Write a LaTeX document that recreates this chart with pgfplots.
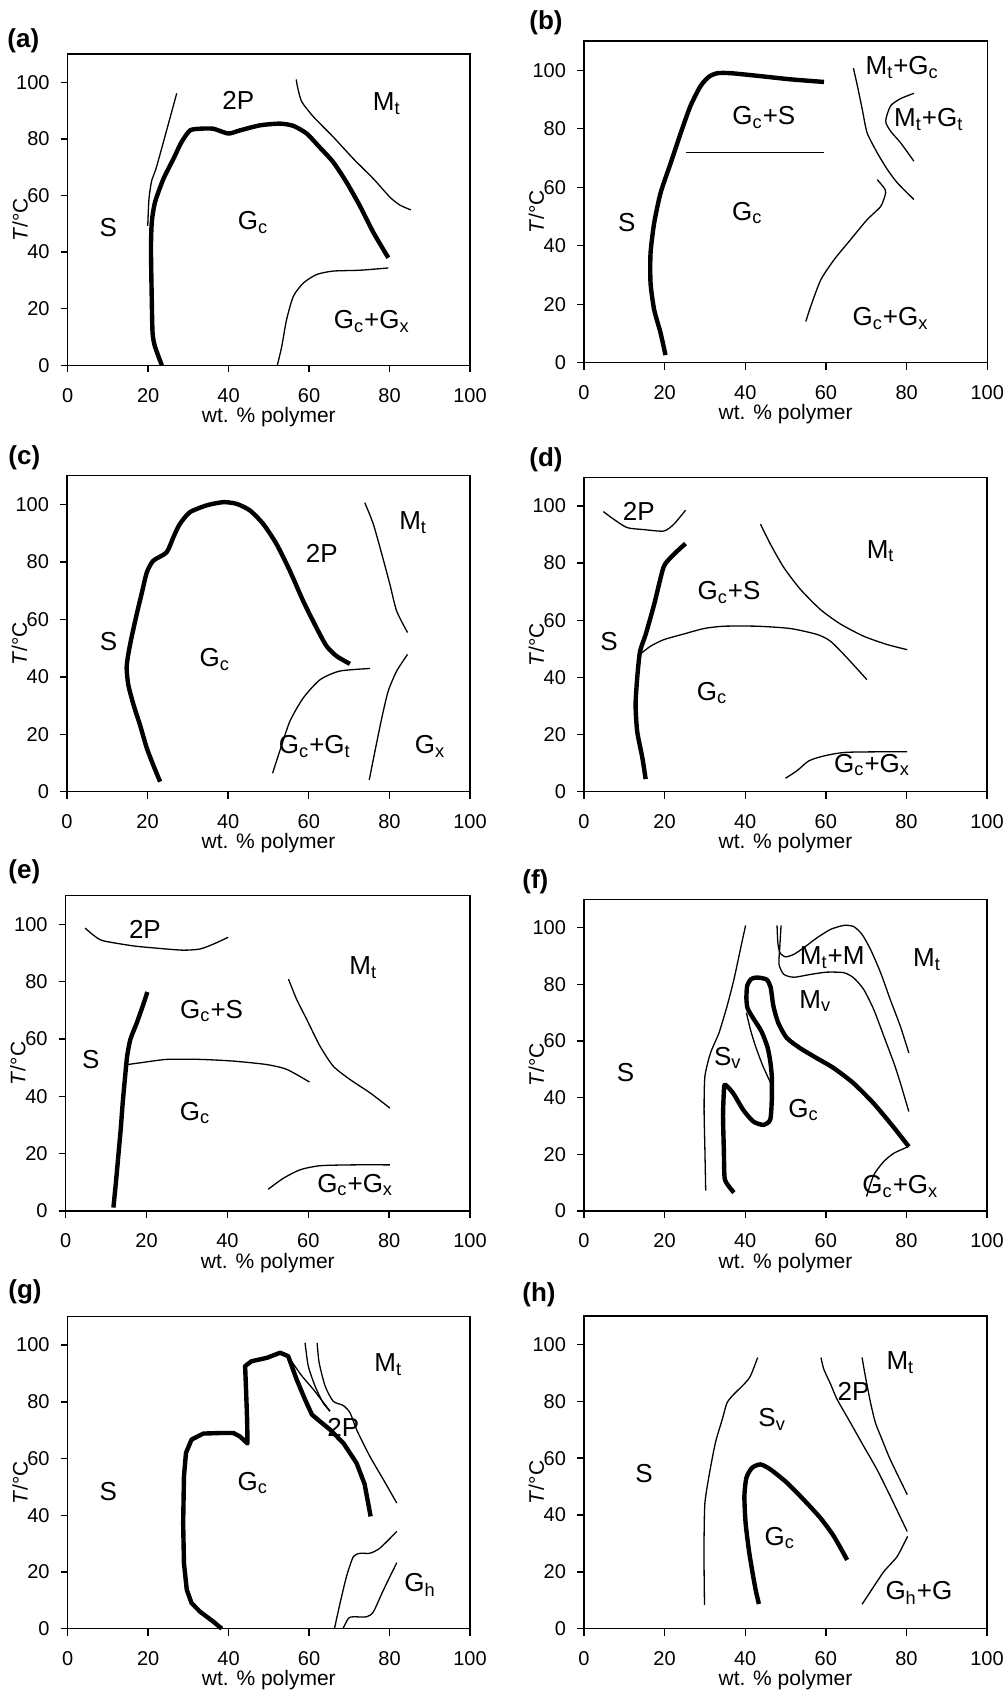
\documentclass[border=0pt]{standalone}
\usepackage{fontspec}
\setmainfont{Liberation Sans}
\usepackage{pgfplots}
\pgfplotsset{compat=1.18}
\pgfplotsset{
 phase/.style={
  scale only axis, clip=false,
  xmin=0,xmax=100,ymin=0,ymax=110,
  xtick={0,20,40,60,80,100}, ytick={0,20,40,60,80,100},
  tick align=outside, xtick pos=left, ytick pos=left,
  major tick length=3.5pt,
  every tick/.style={black, line width=0.7pt},
  axis line style={line width=0.7pt},
  ticklabel style={font=\fontsize{10}{12}\selectfont, inner sep=0pt},
  xticklabel style={yshift=-7.75pt},
  yticklabel style={xshift=-5.35pt},
  /pgf/number format/assume math mode=true,
  xlabel={wt. \% polymer}, ylabel={\textit{T}/°C},
  label style={font=\fontsize{10.5}{12}\selectfont, inner sep=0pt},
  xlabel style={at={(axis description cs:0.5,0)}, anchor=center, yshift=-25.8pt},
  ylabel style={at={(axis description cs:-0.118,0.468)}, anchor=center},
 },
}
\tikzset{
 thn/.style={black, line width=0.65pt, smooth, tension=0.4},
 thk/.style={black, line width=2.2pt, smooth, tension=0.4, line join=round},
 lbl/.style={font=\fontsize{13}{15}\selectfont, anchor=center, inner sep=0pt},
}
\newcommand{\sub}[1]{\textsubscript{#1}}
\begin{document}
\begin{tikzpicture}
\path (0,0) rectangle (503.5pt,-847pt);
% panel labels
\begin{scope}[every node/.style={font=\bfseries\fontsize{13}{15}\selectfont, anchor=west, inner sep=0pt}]
\node at (3.5pt,-20.5pt) {(a)};
\node at (264.5pt,-11.5pt) {(b)};
\node at (4pt,-229pt) {(c)};
\node at (264.5pt,-230pt) {(d)};
\node at (4pt,-436pt) {(e)};
\node at (261pt,-441pt) {(f)};
\node at (4pt,-646pt) {(g)};
\node at (261pt,-647.5pt) {(h)};
\end{scope}

% (a)
\begin{axis}[phase, at={(33.85pt,-182.65pt)}, anchor=south west, width=201.15pt, height=155.65pt]
\addplot[thk] coordinates {(23.4,0) (21.7,6.6) (21.1,11.4) (20.9,23.2) (20.7,41) (20.9,50.5) (21.7,57.6) (23.8,65.9) (26.3,73) (28.3,78.9) (30.4,83) (32.9,83.6) (36.2,83.6) (39.9,81.9) (42.8,83) (47.8,84.8) (52.8,85.4) (56.1,84.6) (59.4,81.9) (62.6,77.1) (66,71.8) (69.3,64.7) (72.6,56.4) (76,46.9) (79.7,38)};
\addplot[thn] coordinates {(19.9,49.3) (20.2,58.8) (20.9,65.4) (22.2,70.7) (27.1,96.1)};
\addplot[thn] coordinates {(56.8,101) (57.2,97.9) (58.2,93.1) (61.1,87.8) (66,80.7) (71,73) (76,65.9) (80.1,59.4) (82.6,56.6) (85.3,54.9)};
\addplot[thn] coordinates {(52.1,0) (53.2,6.6) (54.4,16.1) (56.1,24.4) (58.6,29.1) (61.9,32.1) (66,33.3) (72.7,33.6) (79.7,34.4)};
\node[lbl] at (axis cs:42.4,93.6) {2P};
\node[lbl] at (axis cs:79.3,92.4) {M\sub{t}};
\node[lbl] at (axis cs:10.1,48.7) {S};
\node[lbl] at (axis cs:46.1,50.5) {G\sub{c}};
\node[lbl] at (axis cs:75.6,15.5) {G\sub{c}+G\sub{x}};
\end{axis}

% (b)
\begin{axis}[phase, at={(292pt,-181.35pt)}, anchor=south west, width=201.65pt, height=160.85pt]
\addplot[thk] coordinates {(20.2,2.6) (19,10.1) (17.4,18.1) (16.5,27.2) (16.5,37.5) (17.4,47.8) (19,58.1) (21.5,68.3) (24,78.6) (26.4,87.8) (28.9,94.6) (31,97.8) (33.1,99) (36.4,99) (43,98.1) (51.2,96.9) (59.5,96)};
\addplot[thn] coordinates {(25.2,71.8) (59.5,71.8)};
\addplot[thn] coordinates {(66.8,100.7) (67.8,94.6) (69,86.6) (70.2,78.6) (72.7,71.8) (75.2,66.1) (77.7,61.5) (81.8,55.8)};
\addplot[thn] coordinates {(81.8,92.1) (78.5,90.3) (76,87.8) (74.8,82.6) (76,79.2) (78.5,75.2) (81.8,68.9)};
\addplot[thn] coordinates {(55,14.1) (56.2,19.2) (58.7,28.3) (62,35.2) (66.1,42.1) (70.2,48.9) (73.6,53.5) (74.8,58.1) (74.4,59.8) (72.7,62.6)};
\node[lbl] at (axis cs:78.9,100.9) {M\sub{t}+G\sub{c}};
\node[lbl] at (axis cs:85.5,83.2) {M\sub{t}+G\sub{t}};
\node[lbl] at (axis cs:44.6,83.8) {G\sub{c}+S};
\node[lbl] at (axis cs:40.5,51.2) {G\sub{c}};
\node[lbl] at (axis cs:10.6,47.8) {S};
\node[lbl] at (axis cs:76,15.2) {G\sub{c}+G\sub{x}};
\end{axis}

% (c)
\begin{axis}[phase, at={(33.5pt,-395.85pt)}, anchor=south west, width=201.5pt, height=158pt]
\addplot[thk] coordinates {(23.1,3.5) (21.4,9.3) (19.8,15.2) (18.1,23.3) (16.5,30.3) (15.2,37.3) (14.8,43.1) (15.2,47.8) (16,53.6) (17.3,61.8) (18.5,68.8) (19.8,76.3) (21.4,80.4) (24.7,83.3) (26.4,88.6) (28,93.2) (30.5,97.3) (34.7,99.7) (38.8,100.8) (42.1,100.2) (45.4,97.9) (48.7,93.2) (52,86.2) (55.3,76.9) (58.6,66.4) (61.9,57.1) (64.4,50.7) (66.9,47.2) (70.2,44.5)};
\addplot[thn] coordinates {(73.9,100.6) (76,93.2) (78.1,82.8) (80.1,72.3) (81.8,62.9) (84.5,55.4)};
\addplot[thn] coordinates {(51,6.4) (52.9,14.6) (55.3,24.5) (58.6,32.6) (62.8,39) (67.7,42) (75.2,42.9)};
\addplot[thn] coordinates {(75,4.1) (76.4,14) (78.1,25.6) (79.7,35) (81.8,42) (84.5,47.8)};
\node[lbl] at (axis cs:63.2,82.8) {2P};
\node[lbl] at (axis cs:85.9,93.6) {M\sub{t}};
\node[lbl] at (axis cs:10.3,52.4) {S};
\node[lbl] at (axis cs:36.7,46) {G\sub{c}};
\node[lbl] at (axis cs:61.5,15.7) {G\sub{c}+G\sub{t}};
\node[lbl] at (axis cs:90.1,15.7) {G\sub{x}};
\end{axis}

% (d)
\begin{axis}[phase, at={(292pt,-395.85pt)}, anchor=south west, width=201.5pt, height=157.2pt]
\addplot[thn] coordinates {(4.8,98) (7.4,95.3) (10.7,92.4) (14.9,91.7) (19.8,91.2) (22.3,93.6) (25.2,98.5)};
\addplot[thk] coordinates {(15.3,4.4) (14.5,11.7) (13.2,21.1) (12.8,30.4) (13.2,39.8) (13.9,49.1) (15.3,55) (17.4,65.5) (19.7,78.4) (21.5,81.9) (23.6,84.8) (25.2,86.8)};
\addplot[thn] coordinates {(14,48.2) (16.5,50.9) (19.8,53.2) (24.8,55.2) (29.8,57.1) (34.7,57.9) (43,57.9) (51.2,57.1) (57.9,55) (61.2,52.6) (65.3,46.8) (70.2,39.2)};
\addplot[thn] coordinates {(43.8,93.6) (46.3,86.5) (49.6,78.4) (53.7,70.8) (58.7,63.7) (63.6,58.7) (69.4,54.4) (75.2,51.5) (80.2,49.7)};
\addplot[thn] coordinates {(50,4.7) (52.9,7.4) (55.8,10.8) (59.5,12.5) (65.3,13.8) (80.2,14)};
\node[lbl] at (axis cs:13.6,98) {2P};
\node[lbl] at (axis cs:73.6,84.2) {M\sub{t}};
\node[lbl] at (axis cs:36,69.6) {G\sub{c}+S};
\node[lbl] at (axis cs:6.2,52.6) {S};
\node[lbl] at (axis cs:31.8,34.5) {G\sub{c}};
\node[lbl] at (axis cs:71.5,9.4) {G\sub{c}+G\sub{x}};
\end{axis}

% (e)
\begin{axis}[phase, at={(32.85pt,-605.5pt)}, anchor=south west, width=202.15pt, height=157.65pt]
\addplot[thn] coordinates {(4.8,98.7) (6.8,96.3) (9.2,94.3) (16.7,92.5) (23.3,91.6) (29.1,91) (33.2,91.4) (36.5,93.1) (40.2,95.5)};
\addplot[thk] coordinates {(11.8,1.2) (12.4,9.7) (13,19) (13.6,28.4) (14.1,37.7) (14.7,47) (15.2,54) (16,59.9) (17.6,65.7) (19.2,72.1) (20.2,76.4)};
\addplot[thn] coordinates {(15.3,51.1) (18.4,51.7) (25,52.9) (33.2,52.9) (41.5,52.3) (49.7,51.1) (54.7,49.4) (60.3,45)};
\addplot[thn] coordinates {(55.1,80.9) (57.1,73.9) (59.6,66.9) (62.9,57.5) (66.2,50.5) (70.3,45.9) (75.3,41.2) (80.2,35.9)};
\addplot[thn] coordinates {(50.1,7.6) (53.8,11.4) (58,14.4) (62.9,15.8) (71.1,16.1) (80.2,16.1)};
\node[lbl] at (axis cs:19.6,98.4) {2P};
\node[lbl] at (axis cs:73.6,84.9) {M\sub{t}};
\node[lbl] at (axis cs:36.1,69.8) {G\sub{c}+S};
\node[lbl] at (axis cs:6.2,52.9) {S};
\node[lbl] at (axis cs:32,34.2) {G\sub{c}};
\node[lbl] at (axis cs:71.6,9.1) {G\sub{c}+G\sub{x}};
\end{axis}

% (f)
\begin{axis}[phase, at={(292pt,-605.5pt)}, anchor=south west, width=201.5pt, height=155.85pt]
\addplot[thn] coordinates {(30.2,7.2) (30,21.6) (29.8,35.7) (30,47.5) (31.4,55.8) (33.5,62.9) (35.5,72.3) (37.2,81.7) (38.8,92.3) (40.1,100.8)};
\addplot[thk] coordinates {(37.2,6.5) (36,8.6) (34.9,11.6) (34.7,21.6) (34.5,33.4) (34.7,42) (35,44.6) (37,41.6) (39.5,35.7) (42,31.6) (44.5,30.4) (46.2,32.2) (46.6,39.3) (46.6,47.5) (46.2,53) (45.5,58) (44,63.5) (42,68) (40.6,71.5) (40.3,75) (40.5,79.5) (41.5,81.9) (43,82.4) (45.3,81.7) (46.3,79) (47,72.3) (48.2,66.4) (50.3,61.1) (53.6,57.5) (57.7,54) (61.9,50.5) (66.8,45.2) (71.8,38.1) (76.7,29.8) (80.6,22.7)};
\addplot[thn] coordinates {(40.3,70) (41.3,64) (42.6,58) (44.3,51.5) (46.3,45.2)};
\addplot[thn] coordinates {(47.9,100.8) (48.1,94.7) (48.6,91.2) (50,89.7) (52.1,90.6) (54.5,92.9) (57.9,96.5) (61.2,99.4) (64.5,100.8) (66.9,100.4) (69,97.6) (71.1,92.3) (73.6,84.1) (76,74.6) (78.5,65.2) (80.6,55.8)};
\addplot[thn] coordinates {(48.9,100.8) (48.6,93.5) (48.4,87) (49.6,83.5) (52.1,82.5) (56.2,83.5) (60.3,84.3) (64.5,84.1) (66.9,82.3) (69.4,78.2) (71.9,71.1) (74.4,61.7) (76.9,52.2) (78.5,45.2) (80.6,35.1)};
\addplot[thn] coordinates {(80.6,22.8) (76.9,20.4) (74.4,17.5) (71.9,12.7) (70.1,5.1)};
\node[lbl] at (axis cs:61.6,89.4) {M\sub{t}+M};
\node[lbl] at (axis cs:85.1,88.8) {M\sub{t}};
\node[lbl] at (axis cs:57.4,74.1) {M\sub{v}};
\node[lbl] at (axis cs:35.7,54) {S\sub{v}};
\node[lbl] at (axis cs:10.3,48.9) {S};
\node[lbl] at (axis cs:54.5,35.7) {G\sub{c}};
\node[lbl] at (axis cs:78.5,8.6) {G\sub{c}+G\sub{x}};
\end{axis}

% (g)
\begin{axis}[phase, at={(33.85pt,-814.35pt)}, anchor=south west, width=201.15pt, height=156pt]
\addplot[black, line width=2.2pt, line join=round] coordinates {(38.3,0) (36.2,2.5) (32.9,6) (30.8,9) (29.6,13.7) (28.9,23.1) (28.7,37.2) (28.9,53.7) (29.4,62) (30.8,66.7) (33.7,68.8) (37.9,69) (41.2,69) (42.8,67.8) (44.7,65.3) (44.6,73.7) (44.3,85.5) (44.1,92.6) (45.7,94.3) (49.5,95.5) (52.8,97.3) (54.8,96.1) (56.9,87.9) (59,80.8) (60.7,75.5) (62.7,73.1) (65.2,70.2) (68.5,65.5) (71.8,58.4) (73.8,51) (75.3,39.6)};
\addplot[thn] coordinates {(54.8,96.1) (58,89.5) (61.1,84.3) (65.2,76.7)};
\addplot[thn] coordinates {(59,100.8) (59.8,92.6) (61.5,85.5) (63.5,79.6) (65.2,76.7)};
\addplot[thn] coordinates {(62,100.8) (62.5,93.8) (64,85.5) (66,80.2) (68.5,78.7) (70.2,76.1) (71.8,70.2) (75.1,60.8) (78.5,52.5) (81.8,44.3)};
\addplot[thn] coordinates {(66.3,0) (67.7,9) (69.3,18.4) (71,25.4) (72.7,26.6) (75.1,26.6) (77.6,28.4) (81.8,34.3)};
\addplot[thn] coordinates {(68.4,0) (69.8,3.7) (71,4.2) (74.3,4.2) (76,6) (78.5,13.7) (81.8,23.3)};
\node[lbl] at (axis cs:79.7,93.2) {M\sub{t}};
\node[lbl] at (axis cs:68.5,70.8) {2P};
\node[lbl] at (axis cs:10.1,48.4) {S};
\node[lbl] at (axis cs:46,51.4) {G\sub{c}};
\node[lbl] at (axis cs:87.6,15.4) {G\sub{h}};
\end{axis}

% (h)
\begin{axis}[phase, at={(292pt,-814.35pt)}, anchor=south west, width=201.5pt, height=156.35pt]
\addplot[thn] coordinates {(29.9,8.4) (29.8,20.7) (29.8,32.5) (30,44.2) (31,53.6) (32.6,65.4) (34.3,73.6) (35.5,79.5) (37.2,82.5) (39.7,86) (41.3,88.9) (43.1,95.4)};
\addplot[thk] coordinates {(43.4,8.7) (42.6,13.6) (41.7,20.7) (40.9,27.8) (40.1,37.2) (39.8,46.6) (40.3,53.1) (41.7,56.6) (43.8,57.8) (46.3,56) (50.4,51.3) (54.5,45.4) (58.7,38.9) (62,32.5) (65.3,24.2)};
\addplot[thn] coordinates {(58.8,95.4) (59.5,91.3) (61.2,86) (62.8,80.7) (66.1,72.5) (69.4,64.2) (72.7,56) (76,46.6) (80.2,34.2)};
\addplot[thn] coordinates {(69,95.4) (69.8,88.9) (71.1,79.5) (72.3,72.5) (73.6,67.8) (76,59.5) (80.2,47.2)};
\addplot[thn] coordinates {(69,8.6) (71.1,13.1) (74.4,20.1) (77.7,25.4) (80.3,32.5)};
\node[lbl] at (axis cs:78.5,93.6) {M\sub{t}};
\node[lbl] at (axis cs:66.9,83.5) {2P};
\node[lbl] at (axis cs:46.7,73.6) {S\sub{v}};
\node[lbl] at (axis cs:14.9,54.6) {S};
\node[lbl] at (axis cs:48.6,31.9) {G\sub{c}};
\node[lbl] at (axis cs:83.1,12.5) {G\sub{h}+G};
\end{axis}
\end{tikzpicture}
\end{document}
